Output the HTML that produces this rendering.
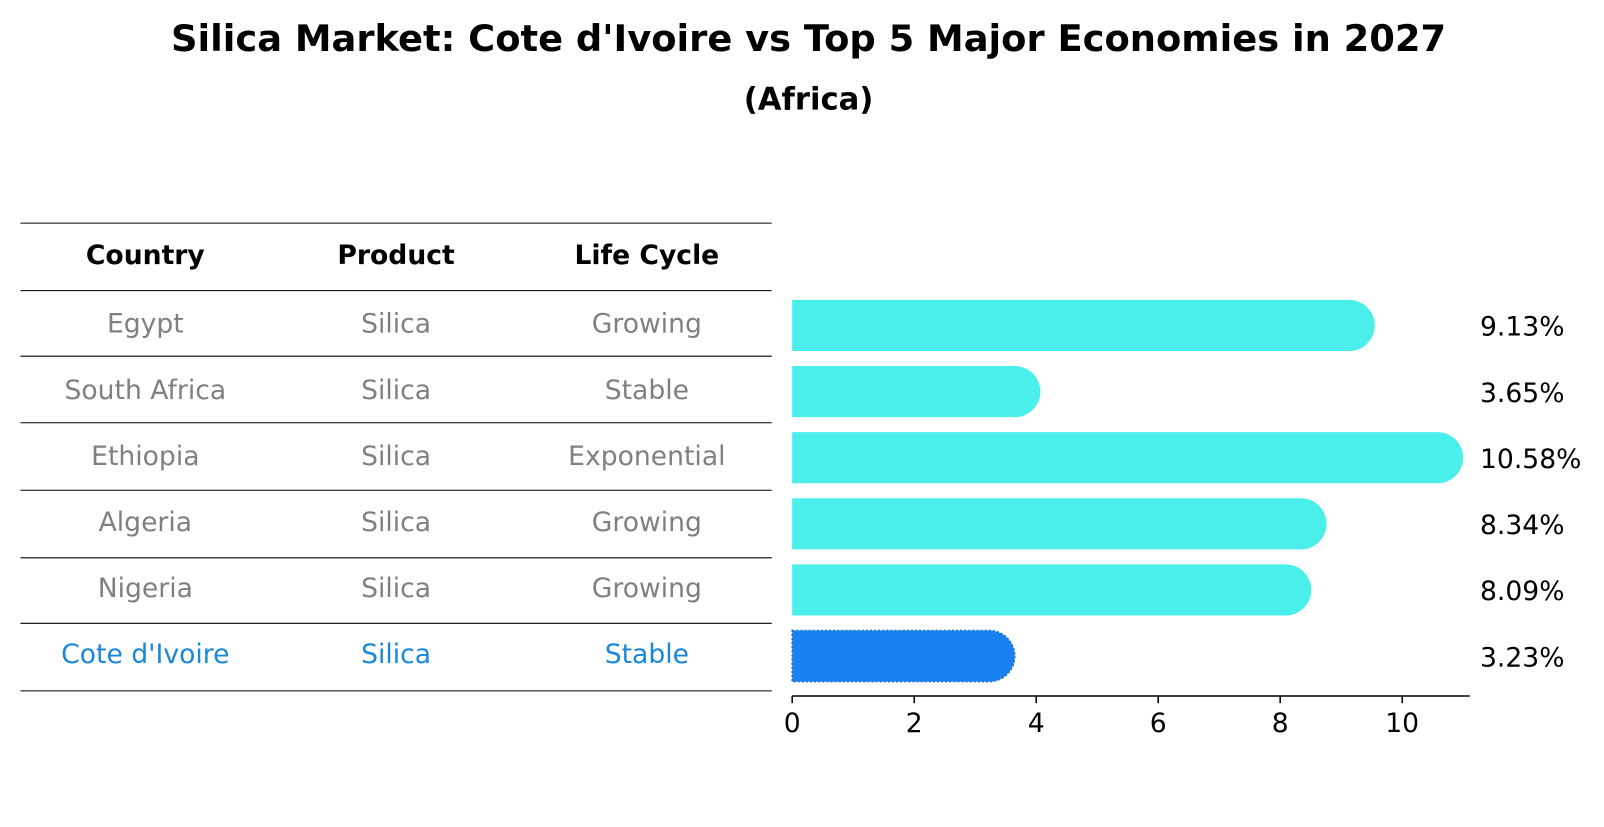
<!DOCTYPE html>
<html><head><meta charset="utf-8"><style>
body{margin:0;background:#fff;font-family:"DejaVu Sans","Liberation Sans",sans-serif;}
svg text{font-family:"DejaVu Sans","Liberation Sans",sans-serif;}
</style></head><body>
<svg width="1604" height="823" xmlns="http://www.w3.org/2000/svg">
<g transform="scale(1.0235)">
<text x="790" y="50" text-anchor="middle" font-size="36" font-weight="bold">Silica Market: Cote d'Ivoire vs Top 5 Major Economies in 2027</text>
<text x="790" y="107" text-anchor="middle" font-size="30" font-weight="bold">(Africa)</text>
<g id="table"></g>
<g id="bars"></g>
</g>
</svg>
<script>
const countries=["Egypt","South Africa","Ethiopia","Algeria","Nigeria","Cote d'Ivoire"];
const products=["Silica","Silica","Silica","Silica","Silica","Silica"];
const lifeCycles=["Growing","Stable","Exponential","Growing","Growing","Stable"];
const values=[9.13,3.65,10.58,8.34,8.09,3.23];
const ticks=[0,2,4,6,8,10];
const NS="http://www.w3.org/2000/svg";
function mk(tag,attrs,parent,txt){const e=document.createElementNS(NS,tag);for(const k in attrs)e.setAttribute(k,attrs[k]);if(txt!==undefined)e.textContent=txt;parent.appendChild(e);return e;}
const tbl=document.getElementById('table'),bars=document.getElementById('bars');
const x0=774,ppu=59.6;const xs=v=>x0+v*ppu;
const rowY=i=>316+i*64.6;
const lineYs=[218,284,348,413,479,545,609,675];
lineYs.forEach(y=>{const l=mk('line',{x1:20,x2:754,y1:y,y2:y,stroke:'#000','stroke-width':1},tbl);

});
const cx=[142,387,632];
["Country","Product","Life Cycle"].forEach((h,j)=>{const t=mk('text',{x:cx[j],y:258,'text-anchor':'middle','font-size':26,'font-weight':'bold'},tbl,h);

});
countries.forEach((c,i)=>{const col=i===countries.length-1?'#1a87d9':'#808080';
[c,products[i],lifeCycles[i]].forEach((v,j)=>{const t=mk('text',{x:cx[j],y:rowY(i)+9,'text-anchor':'middle','font-size':26,fill:col},tbl,v);

});
const hl=i===countries.length-1;const h=50,r=25,y=rowY(i)+2-h/2;const xe=xs(values[i]);
const p=mk('path',{d:`M${x0},${y} L${xe},${y} A${r},${r} 0 0 1 ${xe},${y+h} L${x0},${y+h} Z`,fill:hl?'#1a82f0':'#4aeeea'},bars);
if(hl){p.setAttribute('stroke','#1a6fd0');p.setAttribute('stroke-dasharray','2,2');p.setAttribute('stroke-width','1.5');}


const lt=mk('text',{x:1446,y:rowY(i)+12,'font-size':26},bars,values[i].toFixed(2)+'%');

});
const ax=mk('line',{x1:x0,x2:1436,y1:680,y2:680,stroke:'#000','stroke-width':1.5},bars);


ticks.forEach(t=>{const tl=mk('line',{x1:xs(t),x2:xs(t),y1:680,y2:687,stroke:'#000','stroke-width':1.5},bars);


const tt=mk('text',{x:xs(t),y:715,'text-anchor':'middle','font-size':26},bars,String(t));

});
</script>
</body></html>
